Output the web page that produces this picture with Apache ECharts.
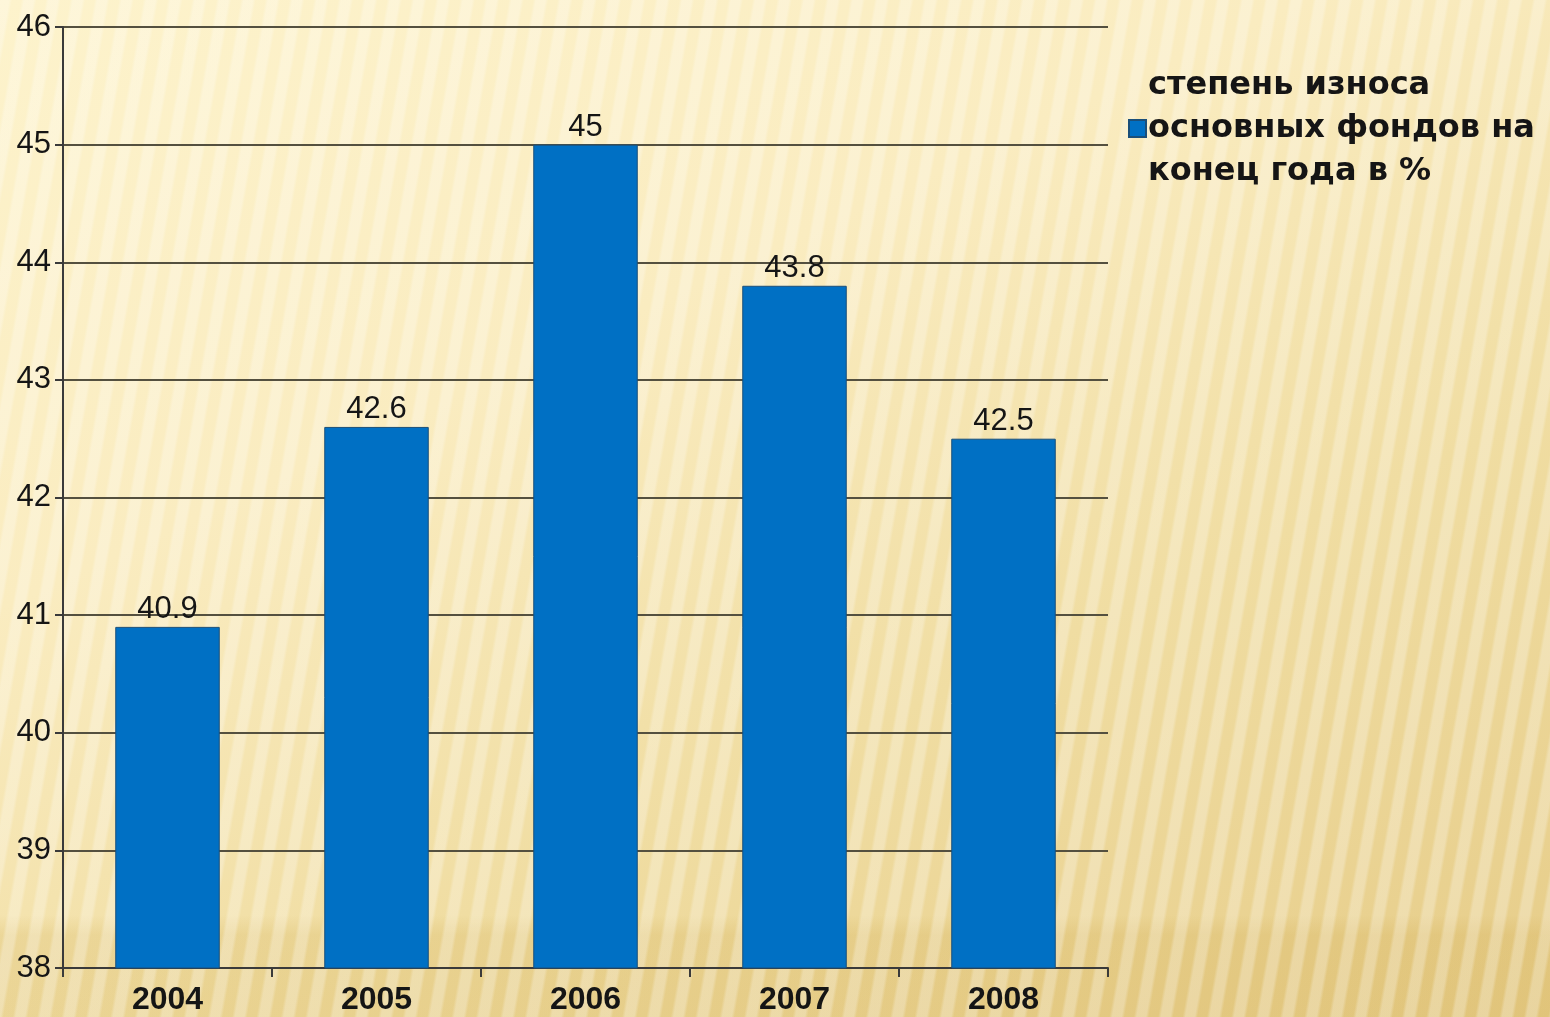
<!DOCTYPE html>
<html>
<head>
<meta charset="utf-8">
<script src="https://cdn.jsdelivr.net/npm/echarts@6/dist/echarts.min.js"></script>
<style>
html,body{margin:0;padding:0;width:1550px;height:1017px;overflow:hidden;}
body{
  background:
    repeating-linear-gradient(100deg, rgba(255,255,255,0.28) 0px, rgba(255,255,255,0.28) 9px, rgba(255,255,255,0) 12px, rgba(255,255,255,0) 21px, rgba(255,255,255,0.28) 24px),
    linear-gradient(180deg, rgba(0,0,0,0) 0px, rgba(0,0,0,0) 915px, rgba(200,160,60,0.18) 935px, rgba(200,160,60,0.18) 1017px),
    linear-gradient(155deg, #FDF3CC 0%, #FAECC0 35%, #F0DDA2 65%, #E6CC88 100%);
}
#chart{width:1550px;height:1017px;}
</style>
</head>
<body>
<div id="chart"></div>
<script>
const categories = ['2004', '2005', '2006', '2007', '2008'];
const values = [40.9, 42.6, 45, 43.8, 42.5];
const seriesName = 'степень износа\nосновных фондов на\nконец года в %';
const yMin = 38, yMax = 46, yStep = 1;

const chart = echarts.init(document.getElementById('chart'), null, {renderer: 'canvas'});
chart.setOption({
  backgroundColor: 'transparent',
  animation: false,
  grid: {left: 63, right: 442, top: 27, bottom: 49, containLabel: false},
  legend: {
    show: true,
    left: 1123,
    top: 59,
    orient: 'vertical',
    itemWidth: 17,
    itemHeight: 17,
    icon: 'rect',
    itemGap: 6,
    textStyle: {
      fontFamily: 'DejaVu Sans, Liberation Sans, sans-serif',
      fontSize: 32,
      fontWeight: 'bold',
      color: '#151515',
      lineHeight: 43,
      padding: [0, 0, 0, -3]
    },
    data: [seriesName]
  },
  xAxis: {
    type: 'category',
    data: categories,
    axisLine: {show: true, lineStyle: {color: '#3a3a3a', width: 2}},
    axisTick: {show: true, length: 9, lineStyle: {color: '#3a3a3a', width: 2}},
    axisLabel: {
      fontFamily: 'Liberation Sans, Arial, sans-serif',
      fontSize: 32,
      fontWeight: 'bold',
      color: '#151515',
      margin: 16
    }
  },
  yAxis: {
    type: 'value',
    min: yMin,
    max: yMax,
    interval: yStep,
    axisLine: {show: true, lineStyle: {color: '#3a3a3a', width: 2}},
    axisTick: {show: true, length: 8, lineStyle: {color: '#3a3a3a', width: 2}},
    splitLine: {show: true, lineStyle: {color: '#54503f', width: 2}},
    axisLabel: {
      fontFamily: 'Liberation Sans, Arial, sans-serif',
      fontSize: 31,
      color: '#151515',
      margin: 12
    }
  },
  series: [{
    name: seriesName,
    type: 'bar',
    data: values,
    barWidth: '50%',
    itemStyle: {color: '#0070C4', borderColor: '#1a4f7a', borderWidth: 1},
    label: {
      show: true,
      position: 'top',
      distance: 2,
      fontFamily: 'Liberation Sans, Arial, sans-serif',
      fontSize: 31,
      color: '#151515'
    }
  }]
});
</script>
</body>
</html>
